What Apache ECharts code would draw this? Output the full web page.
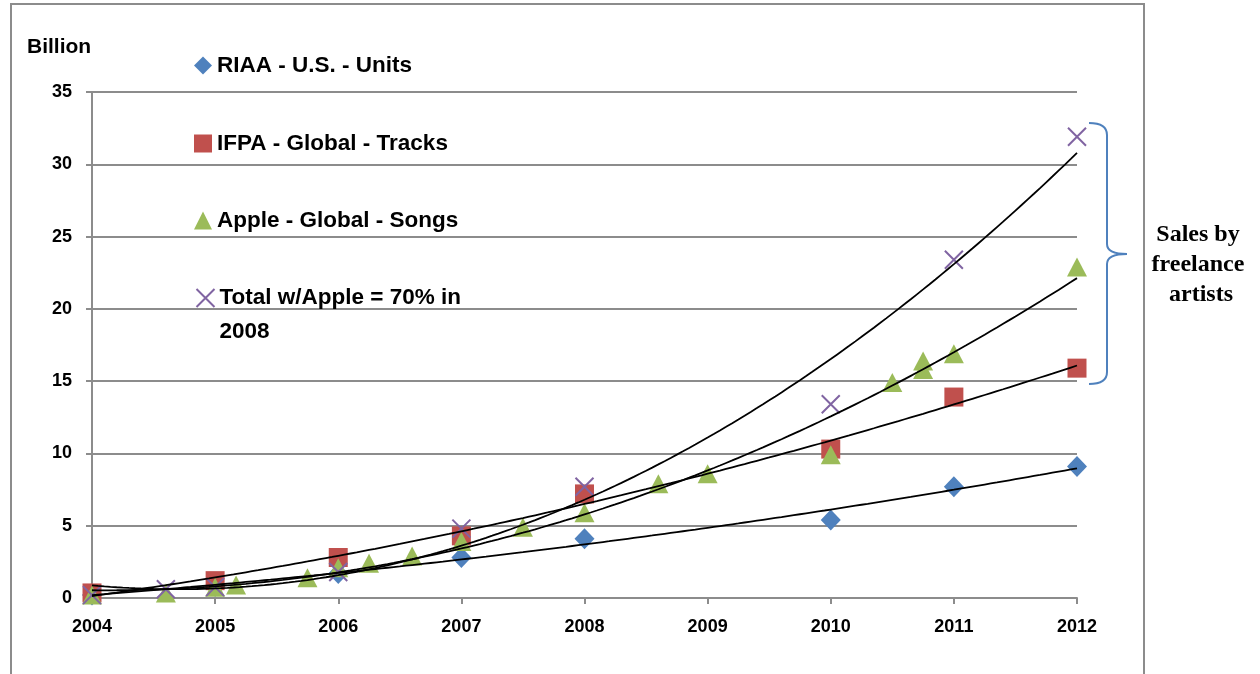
<!DOCTYPE html>
<html>
<head>
<meta charset="utf-8">
<script src="https://cdn.jsdelivr.net/npm/echarts@6/dist/echarts.min.js"></script>
<style>
html,body{margin:0;padding:0;background:#fff;}
#chart{width:1260px;height:674px;}
</style>
</head>
<body>
<div id="chart"></div>
<script>
// ---- data ----
var xTicks = [2004, 2005, 2006, 2007, 2008, 2009, 2010, 2011, 2012];
var yTicks = [0, 5, 10, 15, 20, 25, 30, 35];

var riaaYears  = [2004, 2005, 2006, 2007, 2008, 2010, 2011, 2012];
var riaaValues = [0.2, 0.8, 1.7, 2.8, 4.1, 5.4, 7.7, 9.1];

var ifpaYears  = [2004, 2005, 2006, 2007, 2008, 2010, 2011, 2012];
var ifpaValues = [0.35, 1.2, 2.8, 4.3, 7.2, 10.3, 13.9, 15.9];

var appleYears  = [2004, 2004.6, 2005, 2005.17, 2005.75, 2006, 2006.25, 2006.6, 2007, 2007.5, 2008, 2008.6, 2009, 2010, 2010.5, 2010.75, 2010.75, 2011, 2012];
var appleValues = [0.2, 0.35, 0.75, 0.9, 1.4, 2.1, 2.4, 2.9, 3.9, 4.9, 5.9, 7.9, 8.6, 9.9, 14.9, 16.4, 15.8, 16.9, 22.9];

var totalYears  = [2004, 2004.6, 2005, 2006, 2007, 2008, 2010, 2011, 2012];
var totalValues = [0.2, 0.6, 0.75, 1.8, 4.8, 7.7, 13.4, 23.4, 31.9];

var seriesNames = ['RIAA - U.S. - Units', 'IFPA - Global - Tracks', 'Apple - Global - Songs', 'Total w/Apple = 70% in\n2008'];
var annotationText = 'Sales by\nfreelance\n artists';
var yAxisTitle = 'Billion';

// ---- helpers ----
function pairs(xs, ys) { return xs.map(function (x, i) { return [x, ys[i]]; }); }

// least-squares polynomial (order 2) trendline, as Excel draws it
function quadFit(xs, ys) {
  var x0 = xs[0];
  var S = [0, 0, 0, 0, 0], T = [0, 0, 0];
  for (var i = 0; i < xs.length; i++) {
    var t = xs[i] - x0, p = 1;
    for (var k = 0; k < 5; k++) { S[k] += p; if (k < 3) T[k] += p * ys[i]; p *= t; }
  }
  var A = [[S[0], S[1], S[2], T[0]], [S[1], S[2], S[3], T[1]], [S[2], S[3], S[4], T[2]]];
  for (var c = 0; c < 3; c++) {
    for (var r = c + 1; r < 3; r++) {
      var f = A[r][c] / A[c][c];
      for (var j = c; j < 4; j++) A[r][j] -= f * A[c][j];
    }
  }
  var coef = [0, 0, 0];
  for (var r2 = 2; r2 >= 0; r2--) {
    var s = A[r2][3];
    for (var j2 = r2 + 1; j2 < 3; j2++) s -= A[r2][j2] * coef[j2];
    coef[r2] = s / A[r2][r2];
  }
  return function (x) { var t = x - x0; return coef[0] + coef[1] * t + coef[2] * t * t; };
}
function trend(xs, ys) {
  var f = quadFit(xs, ys), out = [];
  var a = xTicks[0], b = xTicks[xTicks.length - 1], n = 160;
  for (var i = 0; i <= n; i++) { var x = a + (b - a) * i / n; out.push([x, f(x)]); }
  return out;
}

var FONT = 'Liberation Sans, Arial, sans-serif';
var colors = { riaa: '#4F81BD', ifpa: '#C0504D', apple: '#9BBB59', total: '#8064A2' };
var xPath = 'path://M0,0L10,10M10,0L0,10';

var chart = echarts.init(document.getElementById('chart'));

function trendSeries(xs, ys) {
  return {
    type: 'line', data: trend(xs, ys), showSymbol: false, symbol: 'none', silent: true,
    lineStyle: { color: '#000', width: 1.8 }, z: 5, animation: false
  };
}

function legendFor(name, top, lineHeight, formatter) {
  var l = {
    data: [name], left: 194, top: top, orient: 'vertical', padding: 0,
    itemWidth: 18, itemHeight: 18, itemGap: 0, selectedMode: false,
    textStyle: { fontFamily: FONT, fontWeight: 'bold', fontSize: 22.5, color: '#000', lineHeight: lineHeight || 22 }
  };
  if (formatter) l.formatter = formatter;
  return l;
}

var braceStyle = { fill: 'none', stroke: '#4F81BD', lineWidth: 2 };

chart.setOption({
  animation: false,
  backgroundColor: '#fff',
  grid: { left: 92, right: 183, top: 92, bottom: 76 },
  xAxis: {
    type: 'value', min: xTicks[0], max: xTicks[xTicks.length - 1], interval: 1,
    axisLine: { show: true, onZero: false, lineStyle: { color: '#8c8c8c', width: 2 } },
    axisTick: { show: true, length: 6, lineStyle: { color: '#8c8c8c', width: 2 } },
    splitLine: { show: false },
    axisLabel: { margin: 20, fontFamily: FONT, fontWeight: 'bold', fontSize: 18, color: '#000',
      formatter: function (v) { return String(v); } }
  },
  yAxis: {
    type: 'value', min: yTicks[0], max: yTicks[yTicks.length - 1], interval: 5,
    axisLine: { show: true, lineStyle: { color: '#8c8c8c', width: 2 } },
    axisTick: { show: true, length: 6, lineStyle: { color: '#8c8c8c', width: 2 } },
    splitLine: { show: true, lineStyle: { color: '#8c8c8c', width: 2 } },
    axisLabel: { margin: 20, fontFamily: FONT, fontWeight: 'bold', fontSize: 18, color: '#000' }
  },
  legend: [
    legendFor(seriesNames[0], 54),
    legendFor(seriesNames[1], 132),
    legendFor(seriesNames[2], 209),
    // leading blank line keeps the marker beside the first text line
    legendFor(seriesNames[3], 247, 34, function (n) { return '\n' + n; })
  ],
  series: [
    { name: seriesNames[0], type: 'scatter', data: pairs(riaaYears, riaaValues), symbol: 'diamond', symbolSize: [20, 21],
      itemStyle: { color: colors.riaa, opacity: 1 }, z: 2 },
    { name: seriesNames[1], type: 'scatter', data: pairs(ifpaYears, ifpaValues), symbol: 'rect', symbolSize: 19,
      itemStyle: { color: colors.ifpa, opacity: 1 }, z: 2 },
    { name: seriesNames[2], type: 'scatter', data: pairs(appleYears, appleValues), symbol: 'triangle', symbolSize: [20, 19],
      itemStyle: { color: colors.apple, opacity: 1 }, z: 2 },
    { name: seriesNames[3], type: 'scatter', data: pairs(totalYears, totalValues), symbol: xPath, symbolSize: 18,
      itemStyle: { color: 'none', borderColor: colors.total, borderWidth: 2, opacity: 1 }, z: 2 },
    trendSeries(riaaYears, riaaValues),
    trendSeries(ifpaYears, ifpaValues),
    trendSeries(appleYears, appleValues),
    trendSeries(totalYears, totalValues)
  ],
  graphic: [
    { type: 'rect', shape: { x: 11, y: 4, width: 1133, height: 720 }, silent: true,
      style: { fill: 'none', stroke: '#8c8c8c', lineWidth: 2 }, z: -10 },
    { type: 'text', x: 27, y: 37, silent: true,
      style: { text: yAxisTitle, font: 'bold 21px ' + FONT, fill: '#000' } },
    { type: 'bezierCurve', silent: true, shape: { x1: 1089, y1: 123, cpx1: 1107, cpy1: 123, x2: 1107, y2: 135 }, style: braceStyle },
    { type: 'line', silent: true, shape: { x1: 1107, y1: 135, x2: 1107, y2: 244 }, style: braceStyle },
    { type: 'bezierCurve', silent: true, shape: { x1: 1107, y1: 244, cpx1: 1107, cpy1: 254, x2: 1127, y2: 254 }, style: braceStyle },
    { type: 'bezierCurve', silent: true, shape: { x1: 1127, y1: 254, cpx1: 1107, cpy1: 254, x2: 1107, y2: 264 }, style: braceStyle },
    { type: 'line', silent: true, shape: { x1: 1107, y1: 264, x2: 1107, y2: 372 }, style: braceStyle },
    { type: 'bezierCurve', silent: true, shape: { x1: 1107, y1: 372, cpx1: 1107, cpy1: 384, x2: 1089, y2: 384 }, style: braceStyle },
    { type: 'text', x: 1198, y: 220, silent: true,
      style: { text: annotationText, font: 'bold 24px "Liberation Serif", serif', fill: '#000',
        align: 'center', verticalAlign: 'top', lineHeight: 30 } }
  ]
});
</script>
</body>
</html>
